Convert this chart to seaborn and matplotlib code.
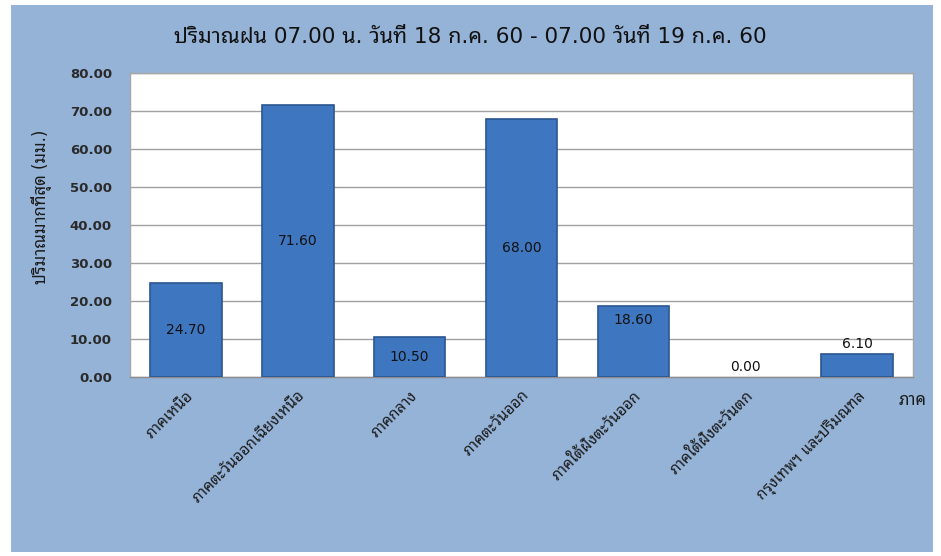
import matplotlib
matplotlib.use("Agg")
import matplotlib.pyplot as plt
from matplotlib.patches import Rectangle
import seaborn as sns
import pandas as pd

# ---- data ----
regions = ["ภาคเหนือ", "ภาคตะวันออกเฉียงเหนือ", "ภาคกลาง", "ภาคตะวันออก",
           "ภาคใต้ฝั่งตะวันออก", "ภาคใต้ฝั่งตะวันตก", "กรุงเทพฯ และปริมณฑล"]
rain_mm = [24.70, 71.60, 10.50, 68.00, 18.60, 0.00, 6.10]
label_mode = ["center", "center", "center", "center", "top", "above", "above"]
y_ticks = [0, 10, 20, 30, 40, 50, 60, 70, 80]

title = "ปริมาณฝน 07.00 น. วันที่ 18 ก.ค. 60 - 07.00 วันที่ 19 ก.ค. 60"
ylabel = "ปริมาณมากที่สุด (มม.)"
xlabel = "ภาค"

df = pd.DataFrame({"region": regions, "rain": rain_mm})

sns.set_theme(style="white")
plt.rcParams["font.family"] = ["DejaVu Sans", "Noto Sans Thai Looped"]

BG = "#95B3D7"
BAR = "#3E76C0"
EDGE = "#2A5690"

fig = plt.figure(figsize=(9.41, 5.56), dpi=100)
fig.patch.set_facecolor("white")
fig.add_artist(Rectangle((11 / 941, 1 - 552 / 556), (933 - 11) / 941, (552 - 5) / 556,
                         transform=fig.transFigure, facecolor=BG, edgecolor="none", zorder=-10))

ax = fig.add_axes([130 / 941, 1 - 377 / 556, (913 - 130) / 941, (377 - 73) / 556])
ax.set_facecolor("white")

sns.barplot(data=df, x="region", y="rain", color=BAR, width=0.64,
            edgecolor=EDGE, linewidth=1.2, saturation=1, ax=ax, zorder=3)
for p in ax.patches:
    if p.get_height() == 0:
        p.set_visible(False)

ax.set_ylim(0, 80)
ax.set_yticks(y_ticks)
ax.set_yticklabels([f"{v:.2f}" for v in y_ticks])
ax.grid(axis="y", color="#A0A0A0", linewidth=1, zorder=0)
ax.set_axisbelow(True)
for s in ax.spines.values():
    s.set_color("#A6A6A6")
    s.set_linewidth(1)
ax.spines["bottom"].set_color("#8C8C8C")

ax.tick_params(axis="y", length=0, pad=13, labelsize=9.5, labelcolor="#2a2a2a")
ax.tick_params(axis="x", length=0, pad=8, labelsize=11, labelcolor="#1a1a1a")
for lab in ax.get_yticklabels():
    lab.set_fontweight("bold")
for lab in ax.get_xticklabels():
    lab.set_rotation(45)
    lab.set_ha("right")
    lab.set_va("top")
    lab.set_rotation_mode("anchor")

ax.set_ylabel(ylabel, fontsize=12, color="#1a1a1a")
ax.yaxis.set_label_coords(-0.1, 0.56)
ax.set_xlabel(xlabel, fontsize=12, color="#1a1a1a")
ax.xaxis.set_label_coords(1.0, -0.045)

# value labels
for i, (v, mode) in enumerate(zip(rain_mm, label_mode)):
    if mode == "center":
        ax.text(i, v / 2, f"{v:.2f}", ha="center", va="center", fontsize=10, color="#111111", zorder=5)
    elif mode == "top":
        ax.annotate(f"{v:.2f}", (i, v), xytext=(0, -10), textcoords="offset points",
                    ha="center", va="center", fontsize=10, color="#111111", zorder=5)
    else:
        ax.annotate(f"{v:.2f}", (i, v), xytext=(0, 7), textcoords="offset points",
                    ha="center", va="center", fontsize=10, color="#111111", zorder=5)

fig.text(470 / 941, 1 - 37 / 556, title, ha="center", va="center",
         fontsize=15.5, color="#111111")

fig.savefig("out.png", dpi=100, facecolor=fig.get_facecolor())
